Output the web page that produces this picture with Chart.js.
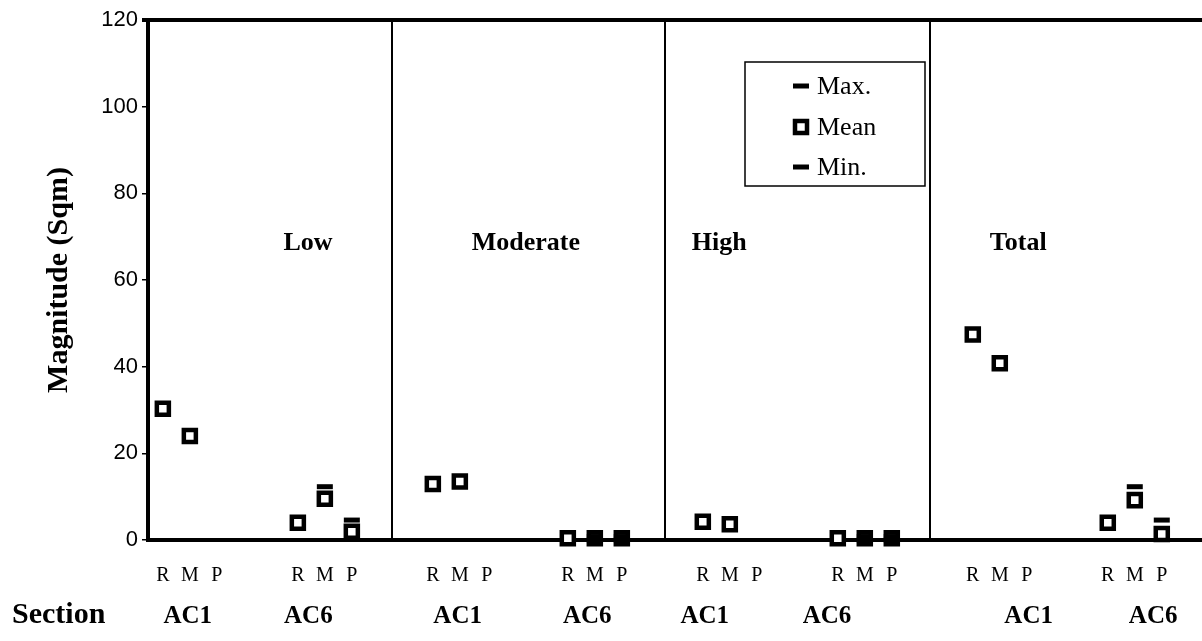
<!DOCTYPE html>
<html>
<head>
<meta charset="utf-8">
<script src="https://cdn.jsdelivr.net/npm/chart.js@4.4.0/dist/chart.umd.min.js"></script>
<style>
  html, body { margin: 0; padding: 0; background: #fff; }
  #wrap { width: 1202px; height: 641px; }
</style>
</head>
<body>
<div id="wrap"><canvas id="chart"></canvas></div>
<script>
const panels = ['Low', 'Moderate', 'High', 'Total'];
const sections = ['AC1', 'AC6'];
const sites = ['R', 'M', 'P'];
const yTicks = [0, 20, 40, 60, 80, 100, 120];

// each row: AC1 R, M, P then AC6 R, M, P  (null = not plotted)
const lowMean      = [30.3, 24.0, null, 4.0, 9.5, 1.9];
const moderateMean = [12.9, 13.5, null, 0.4, 0.4, 0.4];
const highMean     = [4.2, 3.65, null, 0.4, 0.4, 0.4];
const totalMean    = [47.4, 40.8, null, 4.0, 9.2, 1.4];

const lowMax      = [null, null, null, null, 12.3, 4.6];
const moderateMax = [null, null, null, null, 0.8, 0.8];
const highMax     = [null, null, null, null, 0.8, 0.8];
const totalMax    = [null, null, null, null, 12.3, 4.6];

const lowMin      = [null, null, null, null, null, null];
const moderateMin = [null, null, null, null, 0, 0];
const highMin     = [null, null, null, null, 0, 0];
const totalMin    = [null, null, null, null, null, null];

// where the loose text sits on the x axis (axis units)
const sectionLabelAt = [1.92, 6.39, 11.92, 16.72, 21.07, 25.6, 33.07, 37.68];
const panelLabelAt = [5.47, 12.44, 20.59, 31.63];
const panelLabelY = 66.9;
const separatorAt = [9.49, 19.6, 29.41];

// panel p, section s, site i -> x position
function pos(p, s, i) { return 1 + p * 10 + s * 5 + i; }

function series(rows) {
    const pts = [];
    rows.forEach((row, p) => {
        row.forEach((v, k) => {
            if (v !== null) pts.push({ x: pos(p, Math.floor(k / 3), k % 3), y: v });
        });
    });
    return pts;
}

const siteTicks = [];
panels.forEach((_, p) => sections.forEach((_, s) => sites.forEach((_, i) => siteTicks.push(pos(p, s, i)))));

const serif = "'Liberation Serif', 'Times New Roman', serif";

const decorPlugin = {
    id: 'decor',
    afterDraw(chart) {
        const { ctx, chartArea: a, scales: { x, y } } = chart;
        ctx.save();
        ctx.strokeStyle = '#000';
        // top frame line
        ctx.lineWidth = 4;
        ctx.beginPath();
        ctx.moveTo(a.left - 6, a.top);
        ctx.lineTo(a.right, a.top);
        ctx.stroke();
        // panel separators
        ctx.lineWidth = 2;
        separatorAt.forEach(v => {
            const px = Math.round(x.getPixelForValue(v));
            ctx.beginPath();
            ctx.moveTo(px, a.top);
            ctx.lineTo(px, a.bottom);
            ctx.stroke();
        });

        ctx.fillStyle = '#000';
        ctx.textBaseline = 'alphabetic';
        // panel names
        ctx.font = "bold 26px " + serif;
        ctx.textAlign = 'left';
        panels.forEach((name, i) => {
            ctx.fillText(name, x.getPixelForValue(panelLabelAt[i]), y.getPixelForValue(panelLabelY));
        });
        // section row
        const rowY = a.bottom + 83;
        ctx.textAlign = 'left';
        ctx.font = "bold 30px " + serif;
        ctx.fillText('Section', 12, rowY);
        ctx.textAlign = 'center';
        ctx.font = "bold 25px " + serif;
        sectionLabelAt.forEach((v, i) => {
            ctx.fillText(sections[i % 2], x.getPixelForValue(v), rowY);
        });

        // legend box
        const lx = 745, ly = 62, lw = 180, lh = 124;
        ctx.lineWidth = 1.5;
        ctx.strokeRect(lx, ly, lw, lh);
        const mx = 801, tx = 817;
        const rows = [['Max.', 86, 'line'], ['Mean', 127, 'rect'], ['Min.', 167, 'line']];
        ctx.font = "26px " + serif;
        ctx.textAlign = 'left';
        ctx.textBaseline = 'middle';
        rows.forEach(([label, ry, style]) => {
            if (style === 'line') {
                ctx.lineWidth = 5;
                ctx.beginPath();
                ctx.moveTo(mx - 8, ry);
                ctx.lineTo(mx + 8, ry);
                ctx.stroke();
            } else {
                ctx.lineWidth = 4.5;
                ctx.fillStyle = '#fff';
                ctx.fillRect(mx - 6, ry - 6, 12, 12);
                ctx.strokeRect(mx - 6, ry - 6, 12, 12);
                ctx.fillStyle = '#000';
            }
            ctx.fillText(label, tx, ry + 1);
        });
        ctx.restore();
    }
};

const dashStyle = {
    showLine: false,
    pointStyle: 'line',
    pointRadius: 8,
    pointBorderWidth: 5,
    pointBorderColor: '#000',
    pointBackgroundColor: '#000',
    pointHoverRadius: 8,
    clip: false
};

new Chart(document.getElementById('chart'), {
    type: 'scatter',
    data: {
        datasets: [
            Object.assign({ label: 'Max.', data: series([lowMax, moderateMax, highMax, totalMax]) }, dashStyle),
            Object.assign({ label: 'Min.', data: series([lowMin, moderateMin, highMin, totalMin]) }, dashStyle),
            {
                label: 'Mean',
                data: series([lowMean, moderateMean, highMean, totalMean]),
                showLine: false,
                pointStyle: 'rect',
                pointRadius: 8.5,
                pointBorderWidth: 4.5,
                pointBorderColor: '#000',
                pointBackgroundColor: '#fff',
                pointHoverRadius: 8.5,
                clip: false
            }
        ]
    },
    options: {
        responsive: true,
        maintainAspectRatio: false,
        animation: false,
        layout: { autoPadding: false, padding: { top: 20, right: 0, bottom: 0, left: 0 } },
        plugins: {
            legend: { display: false },
            tooltip: { enabled: false }
        },
        scales: {
            x: {
                type: 'linear',
                min: 0.45,
                max: 39.49,
                afterBuildTicks(scale) {
                    scale.ticks = siteTicks.map(v => ({ value: v }));
                },
                afterFit(scale) {
                    scale.height = 101;
                    scale.paddingLeft = 0;
                    scale.paddingRight = 0;
                },
                grid: { display: false, drawTicks: true, tickLength: 24, color: 'rgba(0,0,0,0)' },
                border: { display: true, color: '#000', width: 4 },
                ticks: {
                    autoSkip: false,
                    maxRotation: 0,
                    padding: 0,
                    color: '#000',
                    font: { family: serif, size: 20 },
                    callback: (v, i) => sites[i % 3]
                }
            },
            y: {
                min: 0,
                max: 120,
                afterBuildTicks(scale) {
                    scale.ticks = yTicks.map(v => ({ value: v }));
                },
                afterFit(scale) { scale.width = 148; },
                grid: {
                    drawOnChartArea: false,
                    drawTicks: true,
                    tickLength: 6,
                    color: '#000',
                    lineWidth: 1.5
                },
                border: { display: true, color: '#000', width: 4 },
                ticks: {
                    padding: 4,
                    color: '#000',
                    font: { family: "'Liberation Sans', Arial, sans-serif", size: 22 }
                },
                title: {
                    display: true,
                    text: 'Magnitude (Sqm)',
                    color: '#000',
                    font: { family: serif, size: 30, weight: 'bold' },
                    padding: { top: 41, bottom: 0 }
                }
            }
        }
    },
    plugins: [decorPlugin]
});
</script>
</body>
</html>
